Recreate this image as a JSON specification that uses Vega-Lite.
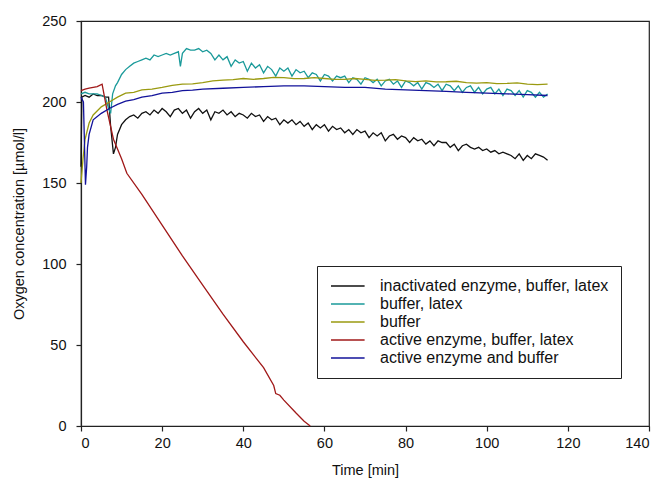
{
  "$schema": "https://vega.github.io/schema/vega-lite/v6.json",
  "width": 568,
  "height": 405,
  "autosize": {"type": "none"},
  "padding": {"left": 81, "top": 21, "right": 14, "bottom": 63},
  "background": "white",
  "config": {
    "font": "Liberation Sans",
    "view": {"stroke": "#222222", "strokeWidth": 1.2},
    "axis": {"grid": false, "domainColor": "#222222", "tickColor": "#222222", "labelColor": "#111111", "titleColor": "#111111", "labelFontSize": 14.5, "titleFontSize": 14.5, "titleFontWeight": "normal", "tickSize": 5, "domainWidth": 1.2, "tickWidth": 1.2, "labelFont": "Liberation Sans", "titleFont": "Liberation Sans"}
  },
  "data": {"values": [
    {"s":"k","t":0,"v":160},{"s":"k","t":0.2,"v":203},{"s":"k","t":1,"v":204},{"s":"k","t":2,"v":203},{"s":"k","t":3,"v":205},{"s":"k","t":4,"v":204},{"s":"k","t":5,"v":204},{"s":"k","t":6,"v":203},{"s":"k","t":6.8,"v":203},{"s":"k","t":7.3,"v":185},{"s":"k","t":8,"v":168},{"s":"k","t":8.5,"v":172},{"s":"k","t":9,"v":180},{"s":"k","t":10,"v":186},{"s":"k","t":11,"v":189},{"s":"k","t":12,"v":191},{"s":"k","t":13,"v":192},{"s":"k","t":14,"v":190},{"s":"k","t":15,"v":193},{"s":"k","t":16,"v":194},{"s":"k","t":17,"v":192},{"s":"k","t":18,"v":195},{"s":"k","t":19,"v":193},{"s":"k","t":20,"v":196},{"s":"k","t":21,"v":194},{"s":"k","t":22,"v":191},{"s":"k","t":23,"v":195},{"s":"k","t":24,"v":196},{"s":"k","t":25,"v":193},{"s":"k","t":26,"v":195},{"s":"k","t":27,"v":190},{"s":"k","t":28,"v":194},{"s":"k","t":29,"v":196},{"s":"k","t":30,"v":193},{"s":"k","t":31,"v":195},{"s":"k","t":32,"v":189},{"s":"k","t":33,"v":194},{"s":"k","t":34,"v":193},{"s":"k","t":35,"v":195},{"s":"k","t":36,"v":192},{"s":"k","t":37,"v":194},{"s":"k","t":38,"v":191},{"s":"k","t":39,"v":193},{"s":"k","t":40,"v":192},{"s":"k","t":41,"v":190},{"s":"k","t":42,"v":193},{"s":"k","t":43,"v":191},{"s":"k","t":44,"v":192},{"s":"k","t":45,"v":188},{"s":"k","t":46,"v":191},{"s":"k","t":47,"v":189},{"s":"k","t":48,"v":190},{"s":"k","t":49,"v":186},{"s":"k","t":50,"v":189},{"s":"k","t":51,"v":187},{"s":"k","t":52,"v":189},{"s":"k","t":53,"v":186},{"s":"k","t":54,"v":188},{"s":"k","t":55,"v":185},{"s":"k","t":56,"v":187},{"s":"k","t":57,"v":183},{"s":"k","t":58,"v":186},{"s":"k","t":59,"v":184},{"s":"k","t":60,"v":186},{"s":"k","t":61,"v":182},{"s":"k","t":62,"v":185},{"s":"k","t":63,"v":183},{"s":"k","t":64,"v":184},{"s":"k","t":65,"v":181},{"s":"k","t":66,"v":183},{"s":"k","t":67,"v":180},{"s":"k","t":68,"v":183},{"s":"k","t":69,"v":181},{"s":"k","t":70,"v":182},{"s":"k","t":71,"v":178},{"s":"k","t":72,"v":181},{"s":"k","t":73,"v":179},{"s":"k","t":74,"v":181},{"s":"k","t":75,"v":176},{"s":"k","t":76,"v":179},{"s":"k","t":77,"v":180},{"s":"k","t":78,"v":177},{"s":"k","t":79,"v":179},{"s":"k","t":80,"v":178},{"s":"k","t":81,"v":175},{"s":"k","t":82,"v":178},{"s":"k","t":83,"v":176},{"s":"k","t":84,"v":177},{"s":"k","t":85,"v":174},{"s":"k","t":86,"v":176},{"s":"k","t":87,"v":173},{"s":"k","t":88,"v":176},{"s":"k","t":89,"v":175},{"s":"k","t":90,"v":175},{"s":"k","t":91,"v":172},{"s":"k","t":92,"v":174},{"s":"k","t":93,"v":170},{"s":"k","t":94,"v":173},{"s":"k","t":95,"v":174},{"s":"k","t":96,"v":172},{"s":"k","t":97,"v":171},{"s":"k","t":98,"v":172},{"s":"k","t":99,"v":170},{"s":"k","t":100,"v":171},{"s":"k","t":101,"v":169},{"s":"k","t":102,"v":170},{"s":"k","t":103,"v":168},{"s":"k","t":104,"v":169},{"s":"k","t":105,"v":168},{"s":"k","t":106,"v":167},{"s":"k","t":107,"v":165},{"s":"k","t":108,"v":168},{"s":"k","t":109,"v":164},{"s":"k","t":110,"v":167},{"s":"k","t":111,"v":165},{"s":"k","t":112,"v":168},{"s":"k","t":113,"v":167},{"s":"k","t":114,"v":166},{"s":"k","t":115,"v":164},
    {"s":"c","t":0,"v":205},{"s":"c","t":1,"v":206},{"s":"c","t":2,"v":205},{"s":"c","t":3,"v":205},{"s":"c","t":4,"v":205},{"s":"c","t":5,"v":204},{"s":"c","t":6,"v":203},{"s":"c","t":6.8,"v":196},{"s":"c","t":7.3,"v":193},{"s":"c","t":7.8,"v":205},{"s":"c","t":8.5,"v":210},{"s":"c","t":9,"v":212},{"s":"c","t":10,"v":217},{"s":"c","t":11,"v":220},{"s":"c","t":12,"v":222},{"s":"c","t":13,"v":224},{"s":"c","t":14,"v":225},{"s":"c","t":15,"v":226},{"s":"c","t":16,"v":227},{"s":"c","t":17,"v":226},{"s":"c","t":18,"v":229},{"s":"c","t":19,"v":228},{"s":"c","t":20,"v":229},{"s":"c","t":21,"v":230},{"s":"c","t":22,"v":229},{"s":"c","t":23,"v":230},{"s":"c","t":24,"v":231},{"s":"c","t":24.5,"v":222},{"s":"c","t":25,"v":230},{"s":"c","t":26,"v":233},{"s":"c","t":27,"v":232},{"s":"c","t":28,"v":232},{"s":"c","t":29,"v":233},{"s":"c","t":30,"v":231},{"s":"c","t":31,"v":232},{"s":"c","t":32,"v":230},{"s":"c","t":33,"v":226},{"s":"c","t":34,"v":229},{"s":"c","t":35,"v":226},{"s":"c","t":36,"v":228},{"s":"c","t":37,"v":222},{"s":"c","t":38,"v":226},{"s":"c","t":39,"v":224},{"s":"c","t":40,"v":225},{"s":"c","t":41,"v":219},{"s":"c","t":42,"v":224},{"s":"c","t":43,"v":221},{"s":"c","t":44,"v":223},{"s":"c","t":45,"v":218},{"s":"c","t":46,"v":222},{"s":"c","t":47,"v":220},{"s":"c","t":48,"v":216},{"s":"c","t":49,"v":221},{"s":"c","t":50,"v":219},{"s":"c","t":51,"v":221},{"s":"c","t":52,"v":216},{"s":"c","t":53,"v":220},{"s":"c","t":54,"v":218},{"s":"c","t":55,"v":219},{"s":"c","t":56,"v":215},{"s":"c","t":57,"v":218},{"s":"c","t":58,"v":217},{"s":"c","t":59,"v":213},{"s":"c","t":60,"v":217},{"s":"c","t":61,"v":216},{"s":"c","t":62,"v":213},{"s":"c","t":63,"v":216},{"s":"c","t":64,"v":215},{"s":"c","t":65,"v":216},{"s":"c","t":66,"v":212},{"s":"c","t":67,"v":215},{"s":"c","t":68,"v":214},{"s":"c","t":69,"v":211},{"s":"c","t":70,"v":215},{"s":"c","t":71,"v":214},{"s":"c","t":72,"v":212},{"s":"c","t":73,"v":214},{"s":"c","t":74,"v":210},{"s":"c","t":75,"v":213},{"s":"c","t":76,"v":214},{"s":"c","t":77,"v":211},{"s":"c","t":78,"v":213},{"s":"c","t":79,"v":209},{"s":"c","t":80,"v":213},{"s":"c","t":81,"v":212},{"s":"c","t":82,"v":210},{"s":"c","t":83,"v":212},{"s":"c","t":84,"v":208},{"s":"c","t":85,"v":212},{"s":"c","t":86,"v":211},{"s":"c","t":87,"v":209},{"s":"c","t":88,"v":211},{"s":"c","t":89,"v":207},{"s":"c","t":90,"v":211},{"s":"c","t":91,"v":210},{"s":"c","t":92,"v":207},{"s":"c","t":93,"v":210},{"s":"c","t":94,"v":206},{"s":"c","t":95,"v":209},{"s":"c","t":96,"v":210},{"s":"c","t":97,"v":206},{"s":"c","t":98,"v":209},{"s":"c","t":99,"v":205},{"s":"c","t":100,"v":208},{"s":"c","t":101,"v":209},{"s":"c","t":102,"v":205},{"s":"c","t":103,"v":208},{"s":"c","t":104,"v":204},{"s":"c","t":105,"v":208},{"s":"c","t":106,"v":207},{"s":"c","t":107,"v":204},{"s":"c","t":108,"v":207},{"s":"c","t":109,"v":203},{"s":"c","t":110,"v":207},{"s":"c","t":111,"v":206},{"s":"c","t":112,"v":203},{"s":"c","t":113,"v":206},{"s":"c","t":114,"v":203},{"s":"c","t":115,"v":205},
    {"s":"y","t":0,"v":150},{"s":"y","t":0.5,"v":165},{"s":"y","t":1,"v":177},{"s":"y","t":2,"v":187},{"s":"y","t":3,"v":192},{"s":"y","t":5,"v":197},{"s":"y","t":7,"v":200},{"s":"y","t":9,"v":203},{"s":"y","t":11,"v":205.5},{"s":"y","t":13,"v":206},{"s":"y","t":15,"v":207.5},{"s":"y","t":17.5,"v":208},{"s":"y","t":20,"v":209},{"s":"y","t":22.5,"v":210.2},{"s":"y","t":25,"v":211},{"s":"y","t":27.5,"v":211.2},{"s":"y","t":30,"v":212},{"s":"y","t":32.5,"v":213},{"s":"y","t":35,"v":213.5},{"s":"y","t":37.5,"v":213.8},{"s":"y","t":40,"v":214.5},{"s":"y","t":42.5,"v":214},{"s":"y","t":45,"v":214.5},{"s":"y","t":47.5,"v":215.2},{"s":"y","t":50,"v":215},{"s":"y","t":52.5,"v":214.4},{"s":"y","t":55,"v":214.5},{"s":"y","t":57.5,"v":215},{"s":"y","t":60,"v":214.5},{"s":"y","t":62.5,"v":214},{"s":"y","t":65,"v":214},{"s":"y","t":67.5,"v":214.5},{"s":"y","t":70,"v":214},{"s":"y","t":72.5,"v":213.4},{"s":"y","t":75,"v":213.5},{"s":"y","t":77.5,"v":213.8},{"s":"y","t":80,"v":213},{"s":"y","t":82.5,"v":212.6},{"s":"y","t":85,"v":213},{"s":"y","t":87.5,"v":212.4},{"s":"y","t":90,"v":212.5},{"s":"y","t":92.5,"v":212.8},{"s":"y","t":95,"v":212},{"s":"y","t":97.5,"v":211.6},{"s":"y","t":100,"v":212},{"s":"y","t":102.5,"v":211.4},{"s":"y","t":105,"v":211.5},{"s":"y","t":107.5,"v":211.8},{"s":"y","t":110,"v":211},{"s":"y","t":112.5,"v":210.7},{"s":"y","t":115,"v":211},
    {"s":"r","t":0,"v":207},{"s":"r","t":1,"v":208},{"s":"r","t":2,"v":208.5},{"s":"r","t":3,"v":209},{"s":"r","t":4,"v":209.5},{"s":"r","t":5.2,"v":211},{"s":"r","t":6.4,"v":195},{"s":"r","t":8,"v":177},{"s":"r","t":10,"v":165},{"s":"r","t":11.3,"v":156},{"s":"r","t":15,"v":143},{"s":"r","t":20,"v":124},{"s":"r","t":25,"v":105},{"s":"r","t":30,"v":87},{"s":"r","t":35,"v":69},{"s":"r","t":40,"v":52},{"s":"r","t":45,"v":36},{"s":"r","t":47.5,"v":25},{"s":"r","t":48,"v":20},{"s":"r","t":49,"v":19},{"s":"r","t":50,"v":16},{"s":"r","t":53,"v":8},{"s":"r","t":55,"v":3},{"s":"r","t":56.5,"v":0},
    {"s":"b","t":0,"v":203},{"s":"b","t":0.6,"v":200},{"s":"b","t":1.1,"v":149},{"s":"b","t":1.4,"v":160},{"s":"b","t":1.6,"v":172},{"s":"b","t":2,"v":180},{"s":"b","t":3,"v":189},{"s":"b","t":5,"v":193},{"s":"b","t":7,"v":196},{"s":"b","t":9,"v":198.5},{"s":"b","t":11,"v":200.5},{"s":"b","t":13,"v":201.5},{"s":"b","t":15,"v":203},{"s":"b","t":17.5,"v":204},{"s":"b","t":20,"v":205.5},{"s":"b","t":22.5,"v":206},{"s":"b","t":25,"v":207},{"s":"b","t":27.5,"v":207.3},{"s":"b","t":30,"v":208},{"s":"b","t":35,"v":208.5},{"s":"b","t":40,"v":209},{"s":"b","t":45,"v":209.5},{"s":"b","t":50,"v":210},{"s":"b","t":55,"v":210},{"s":"b","t":60,"v":209.5},{"s":"b","t":65,"v":209},{"s":"b","t":70,"v":209},{"s":"b","t":75,"v":208},{"s":"b","t":80,"v":207.5},{"s":"b","t":85,"v":207},{"s":"b","t":90,"v":206.5},{"s":"b","t":95,"v":206},{"s":"b","t":100,"v":205.5},{"s":"b","t":105,"v":205},{"s":"b","t":110,"v":204.5},{"s":"b","t":115,"v":204}
  ]},
  "mark": {"type": "line", "strokeWidth": 1.3, "interpolate": "linear"},
  "encoding": {
    "x": {"field": "t", "type": "quantitative", "title": "Time [min]", "scale": {"domain": [0, 140], "nice": false}, "axis": {"values": [0, 20, 40, 60, 80, 100, 120, 140], "titlePadding": 14, "labelPadding": 5}},
    "y": {"field": "v", "type": "quantitative", "title": "Oxygen concentration [µmol/l]", "scale": {"domain": [0, 250], "nice": false}, "axis": {"values": [0, 50, 100, 150, 200, 250], "titlePadding": 15, "labelPadding": 10}},
    "color": {"field": "s", "type": "nominal", "scale": {"domain": ["k", "c", "y", "r", "b"], "range": ["#111111", "#1a9a9a", "#9a9a10", "#a01818", "#12129a"]},
      "legend": {"orient": "none", "legendX": 236, "legendY": 245, "title": null, "labelExpr": "datum.label == 'k' ? 'inactivated enzyme, buffer, latex' : datum.label == 'c' ? 'buffer, latex' : datum.label == 'y' ? 'buffer' : datum.label == 'r' ? 'active enzyme, buffer, latex' : 'active enzyme and buffer'", "labelFontSize": 16, "labelFont": "Liberation Sans", "labelColor": "#111111", "symbolType": "M-1,0H4.6", "symbolSize": 144, "symbolStrokeWidth": 1.5, "strokeColor": "#222222", "fillColor": "white", "padding": 12, "rowPadding": 2, "labelOffset": 35, "labelLimit": 400}},
    "order": {"value": 0}
  }
}
